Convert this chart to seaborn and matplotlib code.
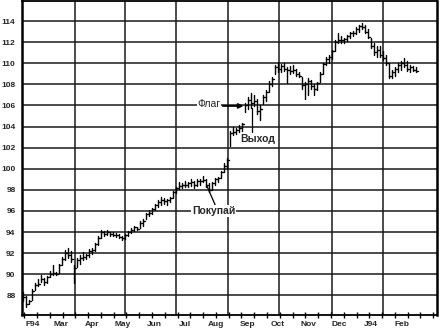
import numpy as np
import pandas as pd
import matplotlib
matplotlib.use("Agg")
import matplotlib.pyplot as plt
import matplotlib.dates as mdates
import seaborn as sns

# ---------------- data ----------------
highs = [
    88.3, 87.9, 87.6, 88.6, 89.2, 89.5, 89.9, 89.6, 89.8, 90.3,
    90.9, 90.2, 91.0, 91.6, 92.3, 92.5, 92.2, 90.9, 91.5, 91.8,
    92.1, 91.9, 92.4, 92.5, 93.0, 93.6, 94.2, 94.1, 94.2, 94.0,
    94.0, 93.9, 93.8, 93.6, 93.8, 94.1, 94.4, 94.6, 94.5, 95.0,
    95.2, 95.8, 96.1, 96.3, 96.7, 97.0, 97.3, 97.2, 97.1, 97.3,
    97.9, 98.3, 98.7, 98.6, 98.8, 98.7, 99.0, 98.8, 99.0, 99.0,
    99.3, 99.0, 98.6, 98.7, 99.1, 99.2, 99.8, 100.5, 101.0, 103.6,
    104.0, 103.9, 104.1, 104.3, 106.2, 106.8, 107.2, 107.0, 106.6, 106.0,
    107.0, 107.5, 108.3, 108.7, 109.8, 110.1, 109.9, 110.0, 109.6, 109.7,
    109.8, 109.5, 109.2, 108.7, 108.2, 108.6, 108.4, 108.0, 108.2, 109.2,
    110.0, 110.6, 110.8, 111.3, 112.2, 112.9, 112.6, 112.4, 112.7, 113.0,
    113.1, 113.4, 113.6, 113.8, 113.6, 113.2, 112.4, 111.9, 111.6, 111.6,
    111.2, 110.8, 110.0, 109.4, 109.6, 110.0, 110.2, 110.5, 110.2, 109.8,
    109.7, 109.6,
]
lows = [
    87.5, 86.9, 87.2, 87.6, 88.5, 88.9, 89.3, 89.0, 89.2, 89.7,
    89.9, 89.9, 90.1, 90.9, 91.3, 91.5, 91.2, 89.2, 90.7, 91.0,
    91.3, 91.4, 91.6, 91.9, 92.2, 92.8, 93.4, 93.6, 93.7, 93.6,
    93.6, 93.5, 93.4, 93.2, 93.3, 93.6, 93.9, 94.1, 94.2, 94.4,
    94.6, 95.2, 95.5, 95.7, 96.1, 96.4, 96.6, 96.7, 96.6, 96.8,
    97.2, 97.7, 98.1, 98.2, 98.3, 98.3, 98.4, 98.2, 98.4, 98.5,
    98.7, 98.3, 97.8, 98.0, 98.5, 98.7, 99.1, 99.7, 100.0, 102.2,
    103.2, 103.3, 103.5, 103.6, 105.4, 105.7, 105.8, 105.9, 105.2, 104.6,
    106.1, 106.4, 107.3, 107.8, 109.0, 109.2, 109.2, 109.3, 108.1, 109.0,
    109.1, 108.8, 108.7, 107.6, 106.6, 107.0, 107.6, 107.0, 107.5, 108.2,
    109.0, 109.8, 110.0, 110.4, 111.2, 111.9, 111.9, 111.9, 112.1, 112.4,
    112.6, 112.8, 113.0, 113.2, 112.9, 112.4, 111.4, 110.8, 110.6, 110.6,
    110.3, 109.8, 108.6, 108.6, 108.8, 109.2, 109.4, 109.6, 109.3, 109.2,
    109.3, 109.2,
]
closes = [
    87.8, 87.2, 87.5, 88.4, 89.0, 89.1, 89.5, 89.3, 89.7, 90.0,
    90.1, 90.0, 90.9, 91.4, 92.0, 91.8, 91.4, 90.6, 91.3, 91.5,
    91.6, 91.8, 92.2, 92.3, 92.9, 93.4, 94.0, 93.8, 94.0, 93.8,
    93.7, 93.7, 93.5, 93.4, 93.7, 94.0, 94.2, 94.5, 94.3, 94.9,
    95.0, 95.7, 95.8, 96.2, 96.6, 96.8, 97.0, 96.9, 97.0, 97.2,
    97.8, 98.2, 98.4, 98.5, 98.5, 98.6, 98.7, 98.5, 98.8, 98.8,
    98.9, 98.5, 98.0, 98.6, 99.0, 99.1, 99.7, 100.3, 100.8, 103.4,
    103.5, 103.7, 103.9, 104.2, 106.0, 106.5, 106.2, 106.4, 105.5, 105.7,
    106.8, 107.3, 108.0, 108.5, 109.6, 109.5, 109.7, 109.5, 109.4, 109.3,
    109.4, 109.0, 108.8, 107.9, 108.0, 108.3, 107.8, 107.6, 108.1, 109.0,
    109.9, 110.4, 110.6, 111.2, 112.0, 112.2, 112.2, 112.3, 112.6, 112.9,
    112.9, 113.2, 113.5, 113.4, 113.0, 112.5, 111.6, 111.1, 111.3, 110.8,
    110.5, 110.0, 108.8, 109.2, 109.5, 109.8, 110.0, 109.8, 109.5, 109.6,
    109.4, 109.3,
]
month_labels = ["F94", "Mar", "Apr", "May", "Jun", "Jul", "Aug", "Sep",
                "Oct", "Nov", "Dec", "J94", "Feb"]
y_ticks = list(range(88, 115, 2))

# ---------------- layout helpers ----------------
base = pd.Timestamp("1994-02-01")
def day(d):
    return base + pd.Timedelta(days=float(d))

dates = pd.date_range("1994-01-22", "1995-02-15", periods=len(highs))
month_starts = pd.date_range("1994-02-01", periods=len(month_labels), freq="MS")

# long-format table for seaborn: each bar = high-low segment + close tick
rows = []
tick = pd.Timedelta(days=1.8)
for i, (d, h, l, c) in enumerate(zip(dates, highs, lows, closes)):
    rows.append((d, h, f"b{i}"))
    rows.append((d, l, f"b{i}"))
    rows.append((d, c, f"c{i}"))
    rows.append((d + tick, c, f"c{i}"))
df = pd.DataFrame(rows, columns=["date", "price", "unit"])

sns.set_theme(style="white")
plt.rcParams["font.family"] = ["Liberation Sans", "DejaVu Sans"]

fig = plt.figure(figsize=(4.46, 3.33), dpi=100)
ax = fig.add_axes([0.049, 0.054, 0.931, 0.943])

sns.lineplot(data=df, x="date", y="price", units="unit", estimator=None,
             color="black", lw=1.0, ax=ax, legend=False)

ax.set_xlim(day(-10.9), day(400))
ax.set_ylim(86.13, 115.9)

# horizontal grid
ax.set_yticks(y_ticks)
ax.set_yticklabels([str(v) for v in y_ticks], fontsize=6, fontweight="bold")
ax.yaxis.grid(True, color="#1a1a1a", lw=1.1)
ax.tick_params(axis="y", length=0, pad=4.5)

# vertical grid
for d in [42, 91, 142, 193, 244, 296, 346]:
    ax.axvline(day(d), color="#1a1a1a", lw=1.1, zorder=0.5)

# x labels at month starts, minor ticks along axis
ax.set_xticks(month_starts)
ax.set_xticklabels(month_labels, fontsize=6, fontweight="bold")
ax.tick_params(axis="x", which="major", length=0, pad=4)
minor = [day(-8.6 + 12.65 * k) for k in range(33)]
ax.set_xticks(minor, minor=True)
ax.tick_params(axis="x", which="minor", direction="inout", length=4,
               width=1.0, color="black", bottom=True)
ax.set_xlabel("")
ax.set_ylabel("")

for s in ["left", "right"]:
    ax.spines[s].set_linewidth(1.8)
for s in ["top", "bottom"]:
    ax.spines[s].set_linewidth(1.3)
for s in ax.spines.values():
    s.set_color("black")
    s.set_visible(True)

# annotations
ax.text(day(174.3), 106.1, "Флаг", fontsize=7.5, ha="center", va="center",
        bbox=dict(facecolor="white", edgecolor="none", pad=0.6), zorder=5)
ax.annotate("", xy=(day(208.5), 105.95), xytext=(day(188), 105.95),
            arrowprops=dict(arrowstyle="-|>", color="black", lw=1.3,
                            mutation_scale=7, shrinkA=0, shrinkB=0), zorder=6)
ax.text(day(222.8), 102.8, "Выход", fontsize=7.5, fontweight="bold",
        ha="center", va="center", zorder=5)
ax.plot([day(216.5), day(216.5)], [103.5, 105.8], color="black", lw=0.9)
ax.text(day(179), 96.0, "Покупай", fontsize=7.5, fontweight="bold",
        ha="center", va="center",
        bbox=dict(facecolor="white", edgecolor="none", pad=0.6), zorder=5)
ax.plot([day(180.5), day(172.5)], [96.55, 98.3], color="black", lw=0.9)

fig.savefig("out.png", dpi=100)
